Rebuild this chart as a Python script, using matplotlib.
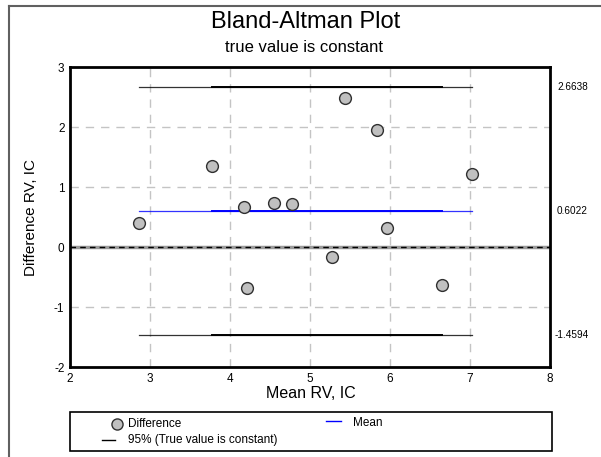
import matplotlib
matplotlib.use("Agg")
import matplotlib.pyplot as plt
from matplotlib.lines import Line2D
from matplotlib.patches import Rectangle
import numpy as np

plt.rcParams['font.family'] = ['Liberation Sans', 'DejaVu Sans']

# ---- data ----
mean_rv = [2.86, 3.78, 4.18, 4.55, 4.78, 5.44, 5.84, 5.96, 5.28, 6.65, 4.21, 7.03]
diff_rv = [0.40, 1.35, 0.66, 0.73, 0.71, 2.49, 1.95, 0.32, -0.17, -0.63, -0.69, 1.22]
mean_diff = 0.6022
upper_loa = 2.6638
lower_loa = -1.4594
x_ticks = [2, 3, 4, 5, 6, 7, 8]
y_ticks = [-2, -1, 0, 1, 2, 3]

W, H = 601, 457
fig = plt.figure(figsize=(W / 100, H / 100), dpi=100)

def fx(px):
    return px / W

def fy(py):
    return 1 - py / H

ax_l, ax_r, ax_t, ax_b = 70, 550, 67, 367
ax = fig.add_axes([fx(ax_l), fy(ax_b), fx(ax_r) - fx(ax_l), fy(ax_t) - fy(ax_b)])
ax.set_xlim(x_ticks[0], x_ticks[-1])
ax.set_ylim(y_ticks[0], y_ticks[-1])
ax.set_xticks(x_ticks)
ax.set_yticks(y_ticks)
ax.set_xticklabels([str(v) for v in x_ticks], fontsize=8.5)
ax.set_yticklabels([str(v) for v in y_ticks], fontsize=8.5)
ax.tick_params(length=0, pad=4)
for s in ax.spines.values():
    s.set_linewidth(2)
    s.set_color('black')

# grid (skip limits and zero)
for xv in x_ticks[1:-1]:
    ax.axvline(xv, color='#c4c4c4', lw=1, dashes=(6, 5), zorder=1)
for yv in y_ticks[1:-1]:
    if yv != 0:
        ax.axhline(yv, color='#c4c4c4', lw=1, dashes=(6, 5), zorder=1)

# zero line
ax.axhline(0, color='#9a9a9a', lw=2.5, zorder=2)
ax.axhline(0, color='black', lw=1, dashes=(4, 3), zorder=3)

xs = sorted(mean_rv)
x_full = [xs[0], xs[-1]]
x_inner = [xs[1], xs[-2]]
for yv, col in [(upper_loa, 'black'), (lower_loa, 'black'), (mean_diff, '#0000ff')]:
    ax.plot(x_full, [yv, yv], color=col, lw=0.9, alpha=0.8, zorder=3)
    ax.plot(x_inner, [yv, yv], color=col, lw=1.4, zorder=3)

ax.plot(mean_rv, diff_rv, linestyle='none', marker='o', markersize=8.5,
        markerfacecolor='#c0c0c0', markeredgecolor='#303030', markeredgewidth=1, zorder=5)

for yv, lab in [(upper_loa, '2.6638'), (mean_diff, '0.6022'), (lower_loa, '-1.4594')]:
    ax.annotate(lab, xy=(1, yv), xycoords=('axes fraction', 'data'),
                xytext=(3 if lab.startswith('-') else 5, 0), textcoords='offset points',
                ha='left', va='center', fontsize=7.2)

ax.set_xlabel('Mean RV, IC', fontsize=11.5, va='center')
ax.xaxis.set_label_coords((311 - ax_l) / (ax_r - ax_l), (ax_b - 394) / (ax_b - ax_t))
ax.set_ylabel('Difference RV, IC', fontsize=11, va='center', ha='center')
ax.yaxis.set_label_coords((31 - ax_l) / (ax_r - ax_l), 0.5)

# titles
fig.text(fx(306), fy(22), 'Bland-Altman Plot', ha='center', va='center', fontsize=17)
fig.text(fx(304), fy(47), 'true value is constant', ha='center', va='center', fontsize=12)

# outer frame
fig.add_artist(Line2D([fx(9), fx(601)], [fy(6), fy(6)], transform=fig.transFigure, color='#606060', lw=1.5))
fig.add_artist(Line2D([fx(9), fx(9)], [fy(6), fy(457)], transform=fig.transFigure, color='#606060', lw=1.5))

# legend box
fig.add_artist(Rectangle((fx(70), fy(451)), fx(552) - fx(70), fy(412) - fy(451),
                         transform=fig.transFigure, fill=False, edgecolor='black', lw=1.2))
fig.add_artist(Line2D([fx(117)], [fy(424)], transform=fig.transFigure, marker='o', markersize=8,
                      markerfacecolor='#c0c0c0', markeredgecolor='#303030', markeredgewidth=1, linestyle='none'))
fig.text(fx(128), fy(424), 'Difference', ha='left', va='center', fontsize=8.5)
fig.add_artist(Line2D([fx(102), fx(115)], [fy(439.5), fy(439.5)], transform=fig.transFigure, color='black', lw=1))
fig.text(fx(128), fy(439.5), '95% (True value is constant)', ha='left', va='center', fontsize=8.5)
fig.add_artist(Line2D([fx(326), fx(341)], [fy(421), fy(421)], transform=fig.transFigure, color='#0000ff', lw=1))
fig.text(fx(353), fy(423), 'Mean', ha='left', va='center', fontsize=8.5)

fig.savefig('out.png', dpi=100)
